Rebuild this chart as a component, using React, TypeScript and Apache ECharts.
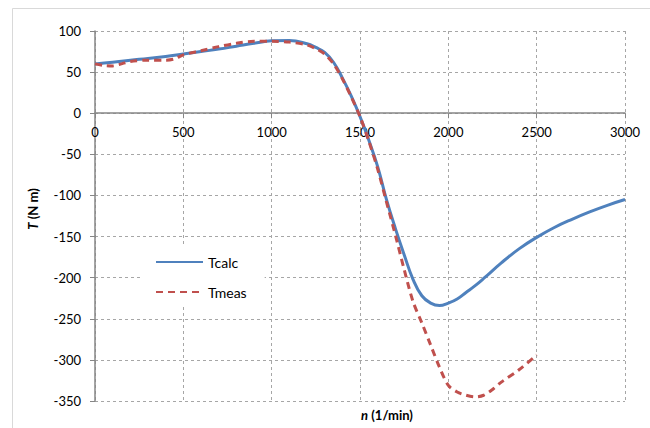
import React, { useEffect, useRef } from "react";
import * as echarts from "echarts";

const calcN = [0, 100, 200, 300, 400, 500, 600, 700, 800, 900, 1000, 1100, 1200, 1250, 1300, 1350, 1400, 1450, 1500, 1550, 1600, 1650, 1700, 1750, 1800, 1850, 1900, 1950, 2000, 2050, 2100, 2150, 2200, 2300, 2400, 2500, 2600, 2700, 2800, 2900, 3000];
const calcT = [60, 62, 64.5, 66.5, 69, 72, 75, 78, 81.5, 85, 88, 88.5, 84.5, 80, 74, 62, 43, 21, -4, -33, -65, -105, -140, -172, -202, -222, -231, -234, -231, -226, -218, -210, -201, -182, -165, -151, -139, -129, -120, -112, -105];

const measN = [0, 50, 100, 150, 200, 300, 400, 450, 500, 600, 700, 800, 900, 1000, 1100, 1200, 1250, 1300, 1350, 1400, 1450, 1500, 1550, 1600, 1650, 1700, 1750, 1800, 1850, 1900, 1950, 2000, 2050, 2100, 2150, 2200, 2250, 2300, 2400, 2500];
const measT = [60, 58, 57.5, 60, 63, 64.5, 64.5, 66, 71, 76, 81, 85, 87.5, 87.5, 86.5, 83, 78.5, 72, 60, 42, 20, -4, -34, -68, -108, -148, -190, -229, -255, -282, -309, -331, -339, -343, -345, -343, -336, -327, -312, -294];

const seriesNames = ["Tcalc", "Tmeas"];
const xTicks = { min: 0, max: 3000, interval: 500 };
const yTicks = { min: -350, max: 100, interval: 50 };

const FONT = "Lato, 'Open Sans', sans-serif";

export default function App() {
  const ref = useRef<HTMLDivElement>(null);
  useEffect(() => {
    if (!ref.current) return;
    const chart = echarts.init(ref.current, undefined, { renderer: "svg" });
    const gridLine = { show: true, lineStyle: { color: "#a6a6a6", type: [3, 3] as any, width: 1 } };
    const gridTop = 31;
    const gridBottom = 27;
    const plotH = 428 - gridTop - gridBottom;
    const zeroOffset = -plotH * (0 - yTicks.min) / (yTicks.max - yTicks.min);
    chart.setOption({
      animation: false,
      backgroundColor: "#fff",
      textStyle: { fontFamily: FONT },
      grid: { left: 95, right: 25, top: gridTop, bottom: gridBottom },
      xAxis: [
        {
          type: "value",
          min: xTicks.min,
          max: xTicks.max,
          interval: xTicks.interval,
          axisLine: { show: false },
          axisTick: { show: false },
          axisLabel: { show: false },
          splitLine: gridLine,
        },
        {
          type: "value",
          position: "bottom",
          offset: zeroOffset,
          min: xTicks.min,
          max: xTicks.max,
          interval: xTicks.interval,
          axisLine: { show: true, onZero: false, lineStyle: { color: "#868686", width: 1.5 } },
          axisTick: { show: true, length: 5, lineStyle: { color: "#868686" } },
          axisLabel: { color: "#000", fontSize: 13, margin: 12, fontFamily: FONT, formatter: (v: number) => String(v) },
          splitLine: { show: false },
        },
      ],
      yAxis: {
        type: "value",
        min: yTicks.min,
        max: yTicks.max,
        interval: yTicks.interval,
        axisLine: { show: true, onZero: false, lineStyle: { color: "#868686", width: 1.5 } },
        axisTick: { show: true, length: 5, lineStyle: { color: "#868686" } },
        axisLabel: { color: "#000", fontSize: 13, margin: 14, fontFamily: FONT },
        splitLine: gridLine,
      },
      legend: {
        orient: "vertical",
        left: 143,
        top: 247,
        padding: [8, 18, 8, 12],
        backgroundColor: "#fff",
        itemWidth: 47,
        itemHeight: 14,
        itemGap: 16,
        itemStyle: { opacity: 0 },
        textStyle: { fontSize: 14, color: "#000", fontFamily: FONT },
        data: seriesNames,
      },
      series: [
        {
          name: seriesNames[0],
          type: "line",
          xAxisIndex: 0,
          data: calcN.map((n, i) => [n, calcT[i]]),
          smooth: 0.45,
          showSymbol: false,
          symbol: "none",
          lineStyle: { color: "#4f81bd", width: 3 },
          itemStyle: { color: "#4f81bd" },
          z: 3,
        },
        {
          name: seriesNames[1],
          type: "line",
          xAxisIndex: 0,
          data: measN.map((n, i) => [n, measT[i]]),
          smooth: 0.3,
          showSymbol: false,
          symbol: "none",
          lineStyle: { color: "#c0504d", width: 3, type: [7, 5] as any },
          itemStyle: { color: "#c0504d" },
          z: 4,
        },
      ],
      graphic: [
        {
          type: "rect",
          silent: true,
          z: -1,
          shape: { x: 12.5, y: 8.5, width: 700, height: 600 },
          style: { fill: "none", stroke: "#d9d9d9", lineWidth: 1 },
        },
        {
          type: "text",
          x: 33,
          y: 209,
          rotation: Math.PI / 2,
          style: {
            text: "{i|T} (N m)",
            align: "center",
            verticalAlign: "middle",
            font: `bold 13px ${FONT}`,
            fill: "#000",
            rich: { i: { fontStyle: "italic", fontWeight: "bold", fontSize: 13, fontFamily: FONT } },
          } as any,
        },
        {
          type: "text",
          x: 387,
          y: 415,
          style: {
            text: "{i|n} (1/min)",
            align: "center",
            verticalAlign: "middle",
            font: `bold 13px ${FONT}`,
            fill: "#000",
            rich: { i: { fontStyle: "italic", fontWeight: "bold", fontSize: 13, fontFamily: FONT } },
          } as any,
        },
      ],
    });
    return () => chart.dispose();
  }, []);
  return <div ref={ref} style={{ position: "fixed", left: 0, top: 0, width: 650, height: 428 }} />;
}
